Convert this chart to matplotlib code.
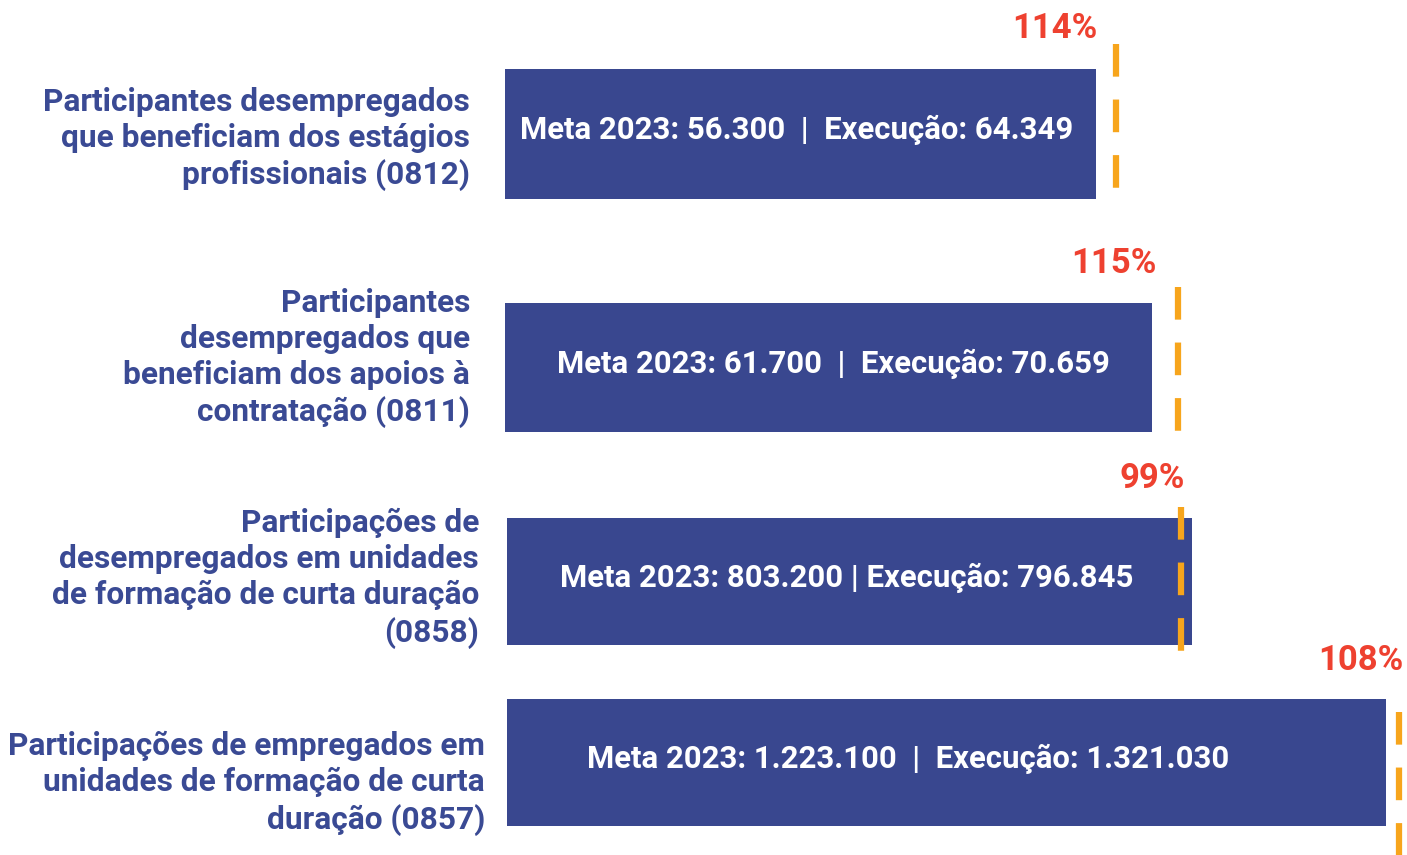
import matplotlib
matplotlib.use("Agg")
import matplotlib.pyplot as plt

# ---------------- data ----------------
categories = [
    "Participantes desempregados\nque beneficiam dos estágios\nprofissionais (0812)",
    "Participantes\ndesempregados que\nbeneficiam dos apoios à\ncontratação (0811)",
    "Participações de\ndesempregados em unidades\nde formação de curta duração\n(0858)",
    "Participações de empregados em\nunidades de formação de curta\nduração (0857)",
]
meta_2023 = ["56.300", "61.700", "803.200", "1.223.100"]
execucao = ["64.349", "70.659", "796.845", "1.321.030"]
percent = [114, 115, 99, 108]
# bar lengths and target-line positions as drawn (display units)
bar_length = [591, 647, 685, 879]
target_pos = [611, 673, 674, 892]

# ---------------- layout ----------------
W, H = 1407, 855
bar_left = [505, 505, 507, 507]
bar_y = [134, 367.5, 581.5, 762.5]
bar_h = [130, 129, 127, 127]
text_x = [797, 833, 847, 908]
text_sep = ["  |  ", "  |  ", " | ", "  |  "]
label_right = [470, 470, 479, 485]
label_y = [139, 358, 578, 783]
pct_right = [1097, 1157, 1185, 1403]
pct_y = [29, 263, 478, 660]
dash_top = [44, 287, 507, 712]
dash_bot = [190, 433, 653, 857]

BLUE = "#39478F"
LABEL = "#3A4A94"
RED = "#EE4130"
ORANGE = "#F7A51C"

plt.rcParams["lines.scale_dashes"] = False

fig = plt.figure(figsize=(W / 100, H / 100), dpi=100)
ax = fig.add_axes([0, 0, 1, 1])
ax.set_xlim(0, W)
ax.set_ylim(H, 0)
ax.axis("off")

for i in range(len(categories)):
    ax.barh(bar_y[i], bar_length[i], left=bar_left[i], height=bar_h[i],
            color=BLUE, zorder=2)
    ax.text(text_x[i], bar_y[i] - 4,
            f"Meta 2023: {meta_2023[i]}{text_sep[i]}Execução: {execucao[i]}",
            ha="center", va="center", color="white", fontsize=22.4,
            fontweight="bold", family="Roboto", zorder=4)
    ax.text(label_right[i], label_y[i], categories[i], ha="right", va="center",
            color=LABEL, fontsize=22.8, fontweight="bold", family="Roboto",
            linespacing=1.26, zorder=4)
    tx = bar_left[i] + target_pos[i]
    ax.plot([tx, tx], [dash_top[i], dash_bot[i]], color=ORANGE, lw=4.5,
            dashes=(23.5, 16.5), solid_capstyle="butt", dash_capstyle="butt",
            zorder=3)
    ax.text(pct_right[i], pct_y[i], f"{percent[i]}%", ha="right", va="center",
            color=RED, fontsize=25, fontweight="bold", family="Roboto", zorder=4)

fig.savefig("out.png", dpi=100, facecolor="white")
